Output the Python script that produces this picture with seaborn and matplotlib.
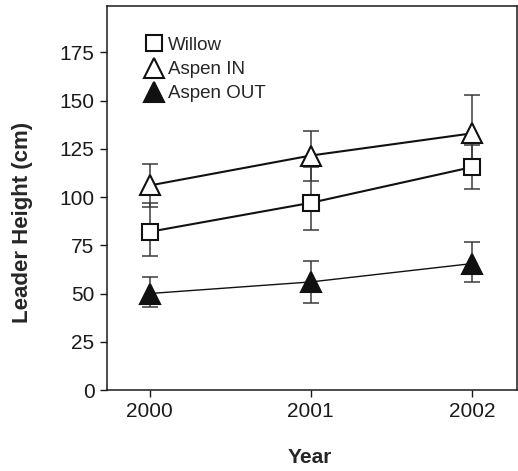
import numpy as np
import pandas as pd
import matplotlib
matplotlib.use("Agg")
import matplotlib.pyplot as plt
import seaborn as sns

# data
years = [2000, 2001, 2002]
series = ["Willow", "Aspen IN", "Aspen OUT"]
willow = [82, 97, 115.5]
willow_lo = [69.5, 83, 104]
willow_hi = [97, 115.5, 127]
aspen_in = [106, 121.5, 133]
aspen_in_lo = [95, 108.5, 116]
aspen_in_hi = [117, 134, 153]
aspen_out = [50, 56, 65.5]
aspen_out_lo = [43, 45, 56]
aspen_out_hi = [58.5, 67, 76.5]

sns.set_style("ticks")
plt.rcParams['font.family'] = ['Liberation Sans', 'DejaVu Sans']

df = pd.DataFrame({
    "Year": years * 3,
    "Height": willow + aspen_in + aspen_out,
    "lo": willow_lo + aspen_in_lo + aspen_out_lo,
    "hi": willow_hi + aspen_in_hi + aspen_out_hi,
    "Series": [s for s in series for _ in years],
})

fig = plt.figure(figsize=(5.18, 4.71), dpi=100)
ax = fig.add_axes([107 / 518, 81 / 471, 410 / 518, 384 / 471])

markers = {"Willow": "s", "Aspen IN": "^", "Aspen OUT": "^"}
faces = {"Willow": "white", "Aspen IN": "white", "Aspen OUT": "#111111"}
widths = {"Willow": 1.5, "Aspen IN": 1.5, "Aspen OUT": 1.0}
sizes = {"Willow": 12, "Aspen IN": 14, "Aspen OUT": 14}

for name in series:
    d = df[df["Series"] == name]
    yerr = np.vstack([d["Height"] - d["lo"], d["hi"] - d["Height"]])
    ax.errorbar(d["Year"], d["Height"], yerr=yerr, fmt="none",
                ecolor="#3a3a3a", elinewidth=1.1, capsize=6, capthick=1.1, zorder=1)
    sns.lineplot(data=d, x="Year", y="Height", ax=ax, color="#111111",
                 linewidth=widths[name], zorder=2, legend=False)
    ax.plot(d["Year"], d["Height"], linestyle="none", marker=markers[name],
            markersize=sizes[name], markerfacecolor=faces[name],
            markeredgecolor="#111111", markeredgewidth=1.5, zorder=3, label=name)

ax.set_xlim(1999.735, 2002.28)
ax.set_ylim(0, 199)
ax.set_xticks(years)
ax.set_xticklabels([str(y) for y in years])
ax.set_yticks(range(0, 200, 25))
ax.tick_params(labelsize=15, direction="out", length=5, width=1, colors="#1a1a1a")
ax.tick_params(axis="y", pad=4)
for s in ax.spines.values():
    s.set_linewidth(1.1)
    s.set_color("#1a1a1a")

ax.set_xlabel("Year", fontsize=15, fontweight="bold")
ax.set_ylabel("Leader Height (cm)", fontsize=16, fontweight="bold")
ax.xaxis.set_label_coords(0.495, -0.15)
ax.yaxis.set_label_coords(-0.18, 0.4375)

leg = ax.legend(loc="upper left", bbox_to_anchor=(0.093, 0.92), frameon=False,
                fontsize=13.5, handletextpad=0.3, labelspacing=0.38,
                handlelength=0.9, markerscale=1.0, borderaxespad=0, borderpad=0)

fig.savefig("out.png", dpi=100)
